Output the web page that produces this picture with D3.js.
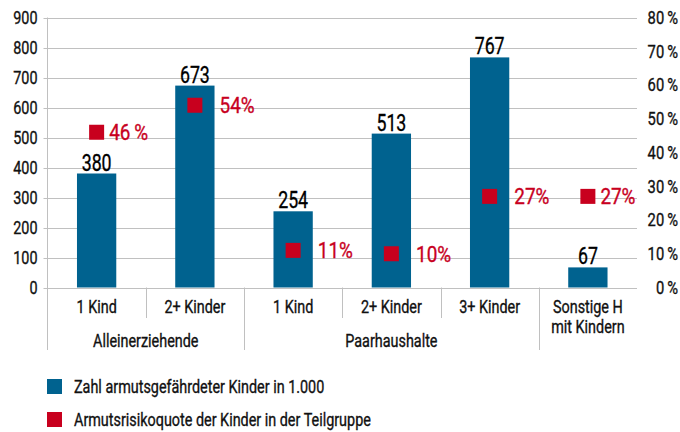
<!DOCTYPE html>
<html>
<head>
<meta charset="utf-8">
<script src="https://cdn.jsdelivr.net/npm/d3@7"></script>
<style>
  body { margin: 0; background: #fff; }
  svg text { font-family: Roboto, "Liberation Sans", sans-serif; stroke-width: 0.35px; }
</style>
</head>
<body>
<div id="chart"></div>
<script>
width = 680
height = 432

// data
let categories = ["1 Kind", "2+ Kinder", "1 Kind ", "2+ Kinder ", "3+ Kinder", "Sonstige H|mit Kindern"]
let groups = [
    { name: "Alleinerziehende", from: 0, to: 1 },
    { name: "Paarhaushalte", from: 2, to: 4 }
]
let kinder = [380, 673, 254, 513, 767, 67]
let quote = [0.46, 0.54, 0.11, 0.10, 0.27, 0.27]
let quoteLabels = ["46\u2009%", "54%", "11%", "10%", "27%", "27%"]
let leftTicks = [0, 100, 200, 300, 400, 500, 600, 700, 800, 900]
let rightTicks = [0, 0.1, 0.2, 0.3, 0.4, 0.5, 0.6, 0.7, 0.8]
let legendItems = ["Zahl armutsgefährdeter Kinder in 1.000", "Armutsrisikoquote der Kinder in der Teilgruppe"]

let blue = "#00628f"
let red = "#c8001e"
let grid = "#c0c0c0"
let ink = "#111"

// condensed look: squeeze text horizontally around its anchor point
function squeeze(sel, k) {
    sel.each(function () {
        let t = d3.select(this)
        let tx = +t.attr("x") || 0
        let ty = +t.attr("y") || 0
        t.attr("transform", "translate(" + tx + "," + ty + ") scale(" + k + ",1)")
            .attr("x", 0)
            .attr("y", 0)
            .attr("stroke", t.attr("fill"))
    })
}

let svg = d3.select("#chart")
    .append("svg")
    .attr("width", width)
    .attr("height", height)

let plotLeft = 47.5, plotRight = 637, plotTop = 17.5, plotBottom = 287.5

let x = d3.scaleBand()
    .domain(categories)
    .range([plotLeft, plotRight])
    .paddingInner(0.6)
    .paddingOuter(0.3)

let y = d3.scaleLinear().domain([0, 900]).range([plotBottom, plotTop])
let y2 = d3.scaleLinear().domain([0, 0.8]).range([plotBottom, plotTop])

// gridlines
svg.append("g")
    .selectAll("line")
    .data(leftTicks)
    .join("line")
    .attr("x1", plotLeft - 4)
    .attr("x2", plotRight)
    .attr("y1", d => Math.round(y(d)) + 0.5)
    .attr("y2", d => Math.round(y(d)) + 0.5)
    .attr("stroke", grid)
    .attr("stroke-width", 1)

// left axis
let yAxis = svg.append("g")
    .attr("transform", "translate(" + plotLeft + ",0)")
    .call(d3.axisLeft(y).tickValues(leftTicks).tickSize(0).tickPadding(10))
yAxis.select(".domain").remove()
yAxis.selectAll("text").attr("font-size", 18).attr("fill", ink)
    .style("font-family", "Roboto, sans-serif")
    .call(squeeze, 0.8)

// right axis
let y2Axis = svg.append("g")
    .attr("transform", "translate(" + plotRight + ",0)")
    .call(d3.axisRight(y2).tickValues(rightTicks).tickSize(0)
        .tickFormat(d => Math.round(d * 100) + "\u2009%"))
y2Axis.select(".domain").remove()
y2Axis.selectAll("text")
    .attr("x", 41)
    .attr("text-anchor", "end")
    .attr("font-size", 18)
    .attr("fill", ink)
    .style("font-family", "Roboto, sans-serif")
    .call(squeeze, 0.82)

// vertical axis line and separators
let step = x.step()
svg.append("line")
    .attr("x1", plotLeft).attr("x2", plotLeft)
    .attr("y1", plotTop).attr("y2", 350)
    .attr("stroke", grid)

let seps = [1, 2, 3, 4, 5]
svg.append("g")
    .selectAll("line")
    .data(seps)
    .join("line")
    .attr("x1", i => Math.round(plotLeft + i * step) + 0.5)
    .attr("x2", i => Math.round(plotLeft + i * step) + 0.5)
    .attr("y1", plotBottom)
    .attr("y2", i => (i == 2 || i == 5) ? 350 : 318)
    .attr("stroke", grid)

// bars
svg.append("g")
    .selectAll("rect")
    .data(kinder)
    .join("rect")
    .attr("x", (d, i) => x(categories[i]))
    .attr("width", x.bandwidth())
    .attr("y", d => y(d))
    .attr("height", d => y(0) - y(d))
    .attr("fill", blue)

svg.append("g")
    .selectAll("text")
    .data(kinder)
    .join("text")
    .attr("x", (d, i) => x(categories[i]) + x.bandwidth() / 2)
    .attr("y", d => y(d) - 3)
    .attr("text-anchor", "middle")
    .attr("font-size", 24)
    .attr("fill", "#000")
    .text(d => d)
    .call(squeeze, 0.74)

// markers
let ms = 15
let markers = svg.append("g")
markers.selectAll("rect")
    .data(quote)
    .join("rect")
    .attr("x", (d, i) => x(categories[i]) + x.bandwidth() / 2 - ms / 2)
    .attr("y", d => y2(d) - ms / 2)
    .attr("width", ms)
    .attr("height", ms)
    .attr("fill", red)

// label sits right of the bar when the marker is inside it, else right of the marker
markers.selectAll("text")
    .data(quote)
    .join("text")
    .attr("x", (d, i) => {
        let inside = y2(d) - ms / 2 > y(kinder[i])
        let edge = inside ? x(categories[i]) + x.bandwidth()
                          : x(categories[i]) + x.bandwidth() / 2 + ms / 2
        return edge + 5
    })
    .attr("y", d => y2(d) + 8)
    .attr("font-size", 22)
    .attr("fill", red)
    .text((d, i) => quoteLabels[i])
    .call(squeeze, 0.86)

// category labels
let catg = svg.append("g")
categories.forEach((c, i) => {
    let lines = c.trim().split("|")
    lines.forEach((t, j) => {
        catg.append("text")
            .attr("x", x(c) + x.bandwidth() / 2)
            .attr("y", 313 + j * 20)
            .attr("text-anchor", "middle")
            .attr("font-size", 18)
            .attr("fill", ink)
            .text(t)
    })
})

groups.forEach(g => {
    let x0 = plotLeft + g.from * step
    let x1 = plotLeft + (g.to + 1) * step
    catg.append("text")
        .attr("x", (x0 + x1) / 2)
        .attr("y", 347)
        .attr("text-anchor", "middle")
        .attr("font-size", 18)
        .attr("fill", ink)
        .text(g.name)
})
catg.selectAll("text").call(squeeze, 0.8)

// legend
let legend = svg.append("g")
    .attr("transform", "translate(47,379)")
legendItems.forEach((t, i) => {
    let row = legend.append("g").attr("transform", "translate(0," + (i * 33) + ")")
    row.append("rect")
        .attr("width", 15)
        .attr("height", 15)
        .attr("fill", i == 0 ? blue : red)
    row.append("text")
        .attr("x", 27)
        .attr("y", 14)
        .attr("font-size", 18)
        .attr("fill", ink)
        .text(t)
        .call(squeeze, 0.8)
})
</script>
</body>
</html>
